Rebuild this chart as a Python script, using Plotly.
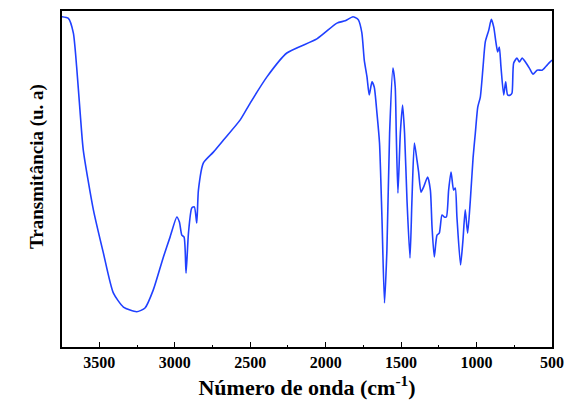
import plotly.graph_objects as go

wavenumber = [3750, 3705, 3672, 3650, 3628, 3606, 3539, 3473, 3407, 3340, 3252, 3197, 3142, 3075,
              3031, 2986, 2969, 2953, 2938, 2925, 2909, 2887, 2870, 2854, 2843, 2810, 2744, 2677,
              2566, 2500, 2389, 2257, 2058, 1925, 1870, 1819, 1793, 1782, 1760, 1744, 1726, 1711,
              1693, 1678, 1660, 1643, 1627, 1610, 1594, 1576, 1554, 1539, 1532, 1521, 1505, 1490,
              1477, 1461, 1441, 1428, 1412, 1395, 1384, 1368, 1351, 1324, 1306, 1295, 1280, 1262,
              1247, 1229, 1214, 1200, 1185, 1169, 1152, 1141, 1130, 1106, 1090, 1075, 1059, 1041,
              1023, 1008, 992, 975, 957, 942, 919, 902, 886, 871, 860, 849, 838, 820, 807, 794,
              776, 765, 754, 732, 716, 698, 676, 650, 626, 599, 566, 550, 532, 514, 498]
transmittance = [98.3, 97.8, 93.5, 83.4, 70.5, 58.6, 40.8, 28.0, 16.1, 11.9, 10.5, 11.6, 17.0, 26.8,
                 32.7, 38.7, 37.2, 33.3, 32.7, 22.0, 33.9, 41.4, 41.7, 36.9, 46.7, 54.8, 58.0, 61.6,
                 67.6, 72.6, 80.4, 87.5, 91.7, 96.4, 97.1, 98.3, 97.8, 97.3, 93.5, 85.4, 80.4, 75.0,
                 78.9, 77.4, 69.6, 60.7, 38.7, 13.1, 28.9, 63.7, 83.0, 77.4, 63.7, 45.8, 63.7, 72.0,
                 63.7, 43.8, 26.5, 43.8, 60.7, 55.7, 52.1, 46.1, 47.6, 50.6, 46.7, 35.7, 26.8, 33.3,
                 33.9, 39.3, 38.7, 38.7, 46.7, 52.1, 46.7, 47.3, 38.7, 24.4, 31.8, 40.8, 33.9, 43.8,
                 56.3, 63.7, 71.4, 74.4, 83.3, 90.8, 94.3, 97.5, 95.2, 90.5, 87.8, 89.3, 83.3, 75.0, 78.9, 75.0,
                 75.0, 75.6, 84.5, 86.0, 84.8, 86.0, 84.8, 83.0, 81.2, 82.4, 82.4, 83.0, 83.9, 84.8, 85.4]

x_ticks = [3500, 3000, 2500, 2000, 1500, 1000, 500]

fig = go.Figure()
fig.add_trace(go.Scatter(x=wavenumber, y=transmittance, mode="lines",
                         line=dict(color="#2040ff", width=1.6, shape="spline", smoothing=0.6),
                         showlegend=False))

serif = "Liberation Serif"
fig.update_layout(
    width=566, height=405,
    margin=dict(l=62, r=14, t=11, b=58),
    paper_bgcolor="white", plot_bgcolor="white",
    xaxis=dict(range=[3747, 500], tickvals=x_ticks, ticktext=[str(v) for v in x_ticks],
               automargin=False,
               ticks="inside", ticklen=5, tickwidth=1.2, tickcolor="black",
               minor=dict(ticks="inside", ticklen=2.5, dtick=250, tickcolor="black", tickwidth=1),
               showline=True, linecolor="black", linewidth=1.5, mirror=True,
               showgrid=False, zeroline=False,
               tickfont=dict(family=serif, size=16, color="black", weight="bold"),
               title=dict(text="<b>Número de onda (cm<sup>-1</sup>)</b>",
                          font=dict(family=serif, size=22, color="black"), standoff=10)),
    yaxis=dict(range=[0, 100], showticklabels=False, ticks="", automargin=False,
               showline=True, linecolor="black", linewidth=1.5, mirror=True,
               showgrid=False, zeroline=False),
)
fig.add_annotation(text="<b>Transmitância (u. a)</b>", xref="paper", yref="paper",
                   x=0, y=0.536, xshift=-38, textangle=-90, showarrow=False,
                   font=dict(family=serif, size=19, color="black"))

fig.write_html("out.html")
